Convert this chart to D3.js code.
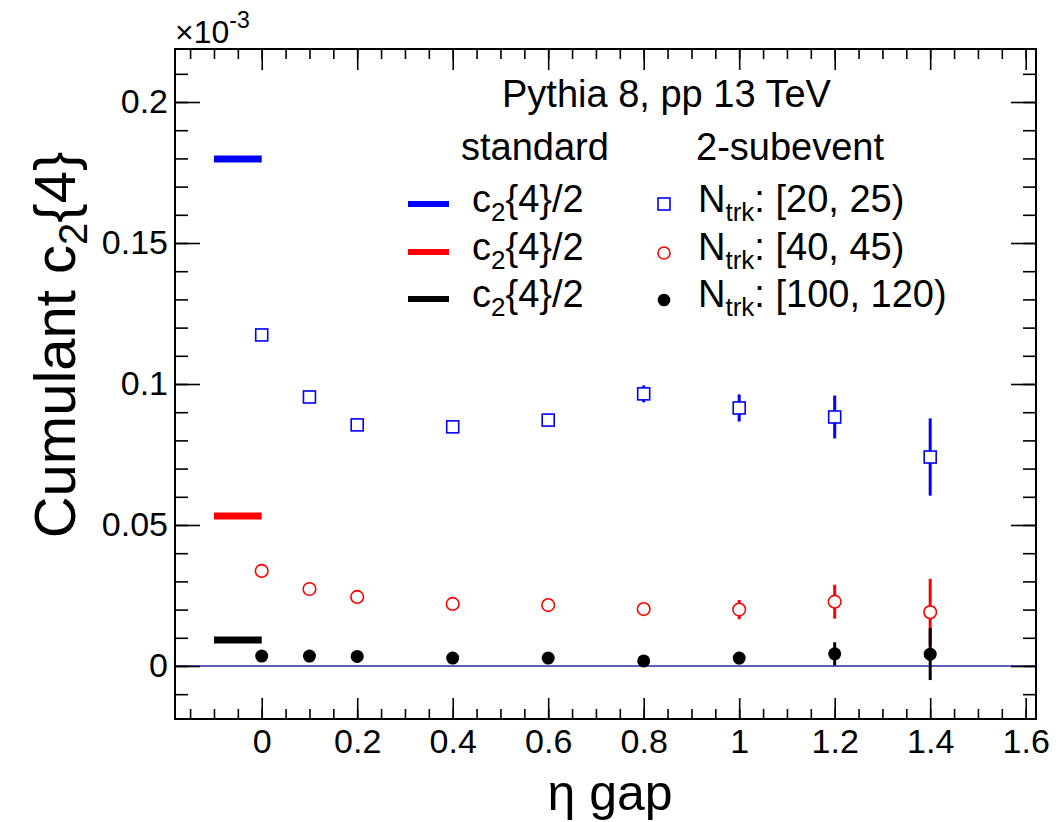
<!DOCTYPE html>
<html>
<head>
<meta charset="utf-8">
<script src="https://cdn.jsdelivr.net/npm/d3@7"></script>
<style>
  body { margin: 0; background: #fff; }
  text { font-family: "Liberation Sans", Arial, Helvetica, sans-serif; fill: #000; }
</style>
</head>
<body>
<svg id="chart" width="1056" height="822"></svg>
<script>
// values of c2{4} in units of 1e-3
var etaGap = [0, 0.1, 0.2, 0.4, 0.6, 0.8, 1.0, 1.2, 1.4];

var low = [0.1174, 0.0954, 0.0855, 0.0848, 0.0872, 0.0965, 0.0915, 0.0883, 0.0741];
var lowErr = [0.0010, 0.0012, 0.0012, 0.0014, 0.0016, 0.0030, 0.0048, 0.0076, 0.0137];

var mid = [0.0337, 0.0273, 0.0245, 0.0220, 0.0216, 0.0202, 0.0200, 0.0228, 0.0191];
var midErr = [0.0008, 0.0009, 0.0010, 0.0011, 0.0013, 0.0018, 0.0034, 0.0060, 0.0118];

var high = [0.0035, 0.0035, 0.0034, 0.0028, 0.0028, 0.0018, 0.0028, 0.0043, 0.0042];
var highErr = [0.0004, 0.0005, 0.0006, 0.0008, 0.0010, 0.0015, 0.0022, 0.0041, 0.0092];

// "standard" c2{4}/2 reference levels, drawn between eta gap -0.1 and 0
var standard = [0.1798, 0.0532, 0.0092];
var standardRange = [-0.1, 0];

var colors = ["#0000ff", "#ff0000", "#000000"];
var ranges = ["[20, 25)", "[40, 45)", "[100, 120)"];

var xTicks = [0, 0.2, 0.4, 0.6, 0.8, 1.0, 1.2, 1.4, 1.6];
var xMinor = d3.range(-0.15, 1.62, 0.05);
var yTicks = [0, 0.05, 0.1, 0.15, 0.2];
var yMinor = d3.range(-0.01, 0.2181, 0.01);

var svg = d3.select("#chart");
var fLeft = 175, fRight = 1036, fTop = 49, fBottom = 719;

var x = d3.scaleLinear().domain([-0.1816, 1.6216]).range([fLeft, fRight]);
var y = d3.scaleLinear().domain([-0.0188, 0.2188]).range([fBottom, fTop]);

// zero line
svg.append("line")
    .attr("x1", fLeft).attr("x2", fRight)
    .attr("y1", y(0)).attr("y2", y(0))
    .attr("stroke", "#2a2aa8").attr("stroke-width", 1.3);

function styleAxis(g) {
    g.select(".domain").remove();
    g.selectAll("line").attr("stroke", "#000").attr("stroke-width", 1.6);
    g.selectAll("text").style("font-size", "34px").attr("fill", "#000");
}

var fmt = function (d) { return String(+d.toFixed(2)); };

// bottom and top
svg.append("g").attr("transform", "translate(0," + fBottom + ")")
    .call(d3.axisBottom(x).tickValues(xMinor).tickSize(-10).tickFormat(""))
    .call(styleAxis);
svg.append("g").attr("transform", "translate(0," + fBottom + ")")
    .call(d3.axisBottom(x).tickValues(xTicks).tickSize(-21).tickPadding(10).tickFormat(fmt))
    .call(styleAxis);
svg.append("g").attr("transform", "translate(0," + fTop + ")")
    .call(d3.axisTop(x).tickValues(xMinor).tickSize(-10).tickFormat(""))
    .call(styleAxis);
svg.append("g").attr("transform", "translate(0," + fTop + ")")
    .call(d3.axisTop(x).tickValues(xTicks).tickSize(-21).tickFormat(""))
    .call(styleAxis);

// left and right
svg.append("g").attr("transform", "translate(" + fLeft + ",0)")
    .call(d3.axisLeft(y).tickValues(yMinor).tickSize(-13).tickFormat(""))
    .call(styleAxis);
svg.append("g").attr("transform", "translate(" + fLeft + ",0)")
    .call(d3.axisLeft(y).tickValues(yTicks).tickSize(-25).tickPadding(7).tickFormat(fmt))
    .call(styleAxis);
svg.append("g").attr("transform", "translate(" + fRight + ",0)")
    .call(d3.axisRight(y).tickValues(yMinor).tickSize(-13).tickFormat(""))
    .call(styleAxis);
svg.append("g").attr("transform", "translate(" + fRight + ",0)")
    .call(d3.axisRight(y).tickValues(yTicks).tickSize(-25).tickFormat(""))
    .call(styleAxis);

// frame
svg.append("rect")
    .attr("x", fLeft).attr("y", fTop)
    .attr("width", fRight - fLeft).attr("height", fBottom - fTop)
    .attr("fill", "none").attr("stroke", "#000").attr("stroke-width", 2);

// standard levels
svg.selectAll(".std").data(standard).enter().append("line")
    .attr("class", "std")
    .attr("x1", x(standardRange[0])).attr("x2", x(standardRange[1]))
    .attr("y1", function (d) { return y(d); }).attr("y2", function (d) { return y(d); })
    .attr("stroke", function (d, i) { return colors[i]; })
    .attr("stroke-width", 7);

// error bars
var series = [
    { vals: low, errs: lowErr, color: colors[0] },
    { vals: mid, errs: midErr, color: colors[1] },
    { vals: high, errs: highErr, color: colors[2] }
];

series.forEach(function (s) {
    svg.append("g").selectAll("line").data(etaGap).enter().append("line")
        .attr("x1", function (d) { return x(d); })
        .attr("x2", function (d) { return x(d); })
        .attr("y1", function (d, i) { return y(s.vals[i] - s.errs[i]); })
        .attr("y2", function (d, i) { return y(s.vals[i] + s.errs[i]); })
        .attr("stroke", s.color).attr("stroke-width", 3);
});

// markers
var sq = 12;
svg.append("g").selectAll("rect").data(etaGap).enter().append("rect")
    .attr("x", function (d) { return x(d) - sq / 2; })
    .attr("y", function (d, i) { return y(low[i]) - sq / 2; })
    .attr("width", sq).attr("height", sq)
    .attr("fill", "#fff").attr("stroke", colors[0]).attr("stroke-width", 1.6);

svg.append("g").selectAll("circle").data(etaGap).enter().append("circle")
    .attr("cx", function (d) { return x(d); })
    .attr("cy", function (d, i) { return y(mid[i]); })
    .attr("r", 6.3)
    .attr("fill", "#fff").attr("stroke", colors[1]).attr("stroke-width", 1.6);

svg.append("g").selectAll("circle").data(etaGap).enter().append("circle")
    .attr("cx", function (d) { return x(d); })
    .attr("cy", function (d, i) { return y(high[i]); })
    .attr("r", 6.5)
    .attr("fill", colors[2]);

// exponent label
var expo = svg.append("text").attr("x", 175).attr("y", 43).style("font-size", "32px");
expo.append("tspan").text("\u00d710");
expo.append("tspan").attr("dy", -15).style("font-size", "23px").text("-3");

// axis titles
svg.append("text")
    .attr("x", 610).attr("y", 810)
    .attr("text-anchor", "middle")
    .style("font-size", "50px")
    .text("\u03b7 gap");

var yt = svg.append("text")
    .attr("transform", "translate(75,345) rotate(-90)")
    .attr("text-anchor", "middle")
    .style("font-size", "58px");
yt.append("tspan").text("Cumulant c");
yt.append("tspan").attr("dy", 12).style("font-size", "40px").text("2");
yt.append("tspan").attr("dy", -12).text("{4}");

// legend
svg.append("text").attr("x", 502).attr("y", 107).style("font-size", "38px")
    .text("Pythia 8, pp 13 TeV");
svg.append("text").attr("x", 461).attr("y", 160).style("font-size", "38px").text("standard");
svg.append("text").attr("x", 696).attr("y", 160).style("font-size", "38px").text("2-subevent");

var rowY = [212, 260, 307];

rowY.forEach(function (ry, i) {
    svg.append("line")
        .attr("x1", 408).attr("x2", 449)
        .attr("y1", ry - 8).attr("y2", ry - 8)
        .attr("stroke", colors[i]).attr("stroke-width", 6);

    var t = svg.append("text").attr("x", 472).attr("y", ry).style("font-size", "38px");
    t.append("tspan").text("c");
    t.append("tspan").attr("dy", 9).style("font-size", "26px").text("2");
    t.append("tspan").attr("dy", -9).text("{4}/2");

    var n = svg.append("text").attr("x", 698).attr("y", ry).style("font-size", "38px");
    n.append("tspan").text("N");
    n.append("tspan").attr("dy", 9).style("font-size", "26px").text("trk");
    n.append("tspan").attr("dy", -9).text(": " + ranges[i]);
});

var lx = 664;
svg.append("rect").attr("x", lx - 6).attr("y", rowY[0] - 14).attr("width", 12).attr("height", 12)
    .attr("fill", "#fff").attr("stroke", colors[0]).attr("stroke-width", 1.6);
svg.append("circle").attr("cx", lx).attr("cy", rowY[1] - 7).attr("r", 6)
    .attr("fill", "#fff").attr("stroke", colors[1]).attr("stroke-width", 1.6);
svg.append("circle").attr("cx", lx).attr("cy", rowY[2] - 7).attr("r", 6.3)
    .attr("fill", colors[2]);
</script>
</body>
</html>
